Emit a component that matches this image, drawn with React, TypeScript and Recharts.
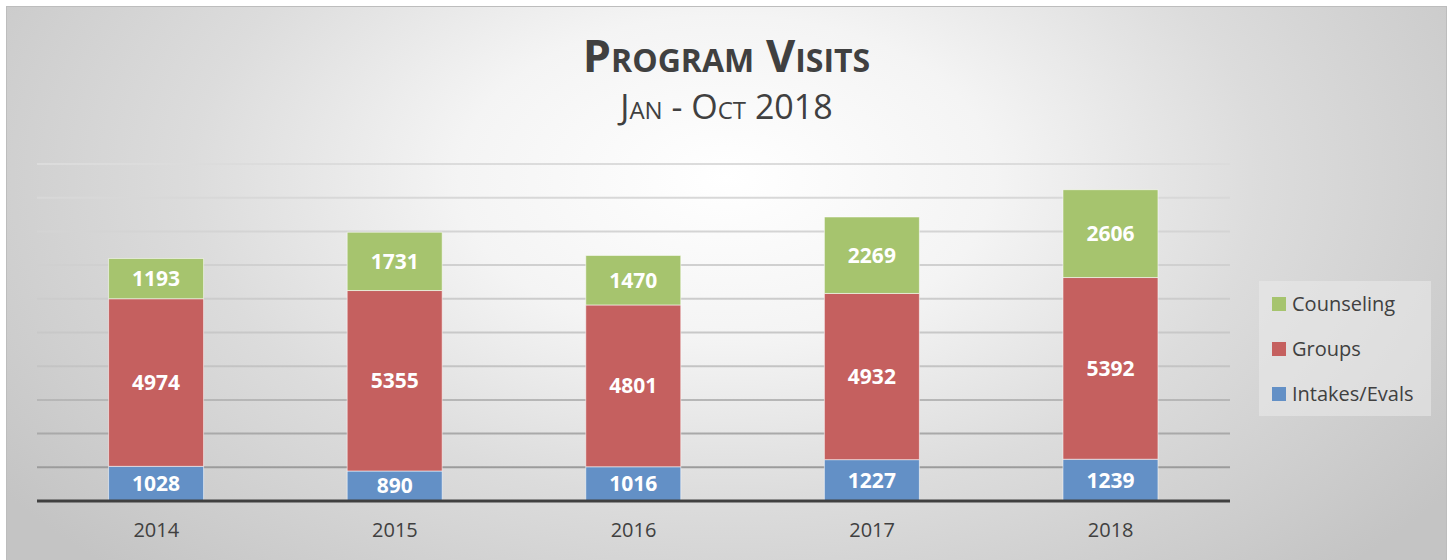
import { BarChart, Bar, XAxis, YAxis, CartesianGrid, ReferenceLine, LabelList } from "recharts";

const years = ["2014", "2015", "2016", "2017", "2018"];
const intakes = [1028, 890, 1016, 1227, 1239];
const groups = [4974, 5355, 4801, 4932, 5392];
const counseling = [1193, 1731, 1470, 2269, 2606];
const yTicks = [0, 1000, 2000, 3000, 4000, 5000, 6000, 7000, 8000, 9000, 10000];

const data = years.map((year, i) => ({
    year,
    intakes: intakes[i],
    groups: groups[i],
    counseling: counseling[i],
}));

const FONT = "'Open Sans', 'DejaVu Sans', sans-serif";
const TEXT = "#404040";

const legendItems = [
    { label: "Counseling", color: "#a6c46e" },
    { label: "Groups", color: "#c5605f" },
    { label: "Intakes/Evals", color: "#6390c6" },
];

const LegendBox = () => (
    <div
        style={{
            position: "absolute",
            left: 1259,
            top: 281,
            width: 172,
            height: 135,
            background: "rgba(235,235,235,0.55)",
            boxSizing: "border-box",
            paddingLeft: 13,
            paddingTop: 0,
        }}
    >
        {legendItems.map((it) => (
            <div key={it.label} style={{ display: "flex", alignItems: "center", height: 45 }}>
                <span style={{ width: 14, height: 14, background: it.color, marginRight: 6, display: "inline-block" }} />
                <span style={{ fontFamily: FONT, fontSize: 20, color: TEXT }}>{it.label}</span>
            </div>
        ))}
    </div>
);

const labelStyle = { fill: "#ffffff", fontFamily: FONT, fontWeight: 700, fontSize: 21 };

export default function App() {
    return (
        <div style={{ position: "absolute", left: 0, top: 0, width: 1453, height: 560, background: "#fff", overflow: "hidden" }}>
            <svg width="0" height="0" style={{ position: "absolute" }}>
                <defs>
                    <linearGradient id="gridGrad" gradientUnits="userSpaceOnUse" x1="0" y1="164" x2="0" y2="501">
                        <stop offset="0%" stopColor="#dcdcdc" />
                        <stop offset="60%" stopColor="#c4c4c4" />
                        <stop offset="100%" stopColor="#8e8e8e" />
                    </linearGradient>
                </defs>
            </svg>
            <div
                style={{
                    position: "absolute",
                    left: 6,
                    top: 6,
                    width: 1441,
                    height: 570,
                    boxSizing: "border-box",
                    border: "1px solid #bdbdbd",
                    background: "radial-gradient(ellipse 62% 95% at 50% 30%, #ffffff 0%, #f4f4f4 30%, #dcdcdc 60%, #c4c4c4 100%)",
                }}
            />
            <div
                style={{
                    position: "absolute",
                    left: 6,
                    width: 1441,
                    top: 24,
                    textAlign: "center",
                    fontFamily: FONT,
                    fontWeight: 700,
                    fontSize: 45,
                    fontVariant: "small-caps",
                    color: TEXT,
                    lineHeight: "62px",
                }}
            >
                Program Visits
            </div>
            <div
                style={{
                    position: "absolute",
                    left: 6,
                    width: 1441,
                    top: 82,
                    textAlign: "center",
                    fontFamily: FONT,
                    fontSize: 34,
                    fontVariant: "small-caps",
                    color: TEXT,
                    lineHeight: "48px",
                }}
            >
                Jan - Oct 2018
            </div>
            <div style={{ position: "absolute", left: 0, top: 0 }}>
                <BarChart
                    width={1453}
                    height={560}
                    data={data}
                    margin={{ top: 164, right: 223, bottom: 29, left: 37 }}
                    barCategoryGap="30%"
                >
                    <CartesianGrid vertical={false} stroke="url(#gridGrad)" strokeWidth={2} />
                    <YAxis hide domain={[0, 10000]} ticks={yTicks} />
                    <XAxis
                        dataKey="year"
                        axisLine={false}
                        tickLine={false}
                        tickSize={0}
                        tickMargin={22}
                        tick={{ fill: TEXT, fontFamily: FONT, fontSize: 20 }}
                    />
                    <Bar dataKey="intakes" name="Intakes/Evals" stackId="a" fill="#6390c6" stroke="rgba(255,255,255,0.55)" isAnimationActive={false}>
                        <LabelList dataKey="intakes" position="center" style={labelStyle} />
                    </Bar>
                    <Bar dataKey="groups" name="Groups" stackId="a" fill="#c5605f" stroke="rgba(255,255,255,0.55)" isAnimationActive={false}>
                        <LabelList dataKey="groups" position="center" style={labelStyle} />
                    </Bar>
                    <Bar dataKey="counseling" name="Counseling" stackId="a" fill="#a6c46e" stroke="rgba(255,255,255,0.55)" isAnimationActive={false}>
                        <LabelList dataKey="counseling" position="center" style={labelStyle} />
                    </Bar>
                    <ReferenceLine y={0} stroke="#404040" strokeWidth={3} />
                </BarChart>
            </div>
            <LegendBox />
        </div>
    );
}
